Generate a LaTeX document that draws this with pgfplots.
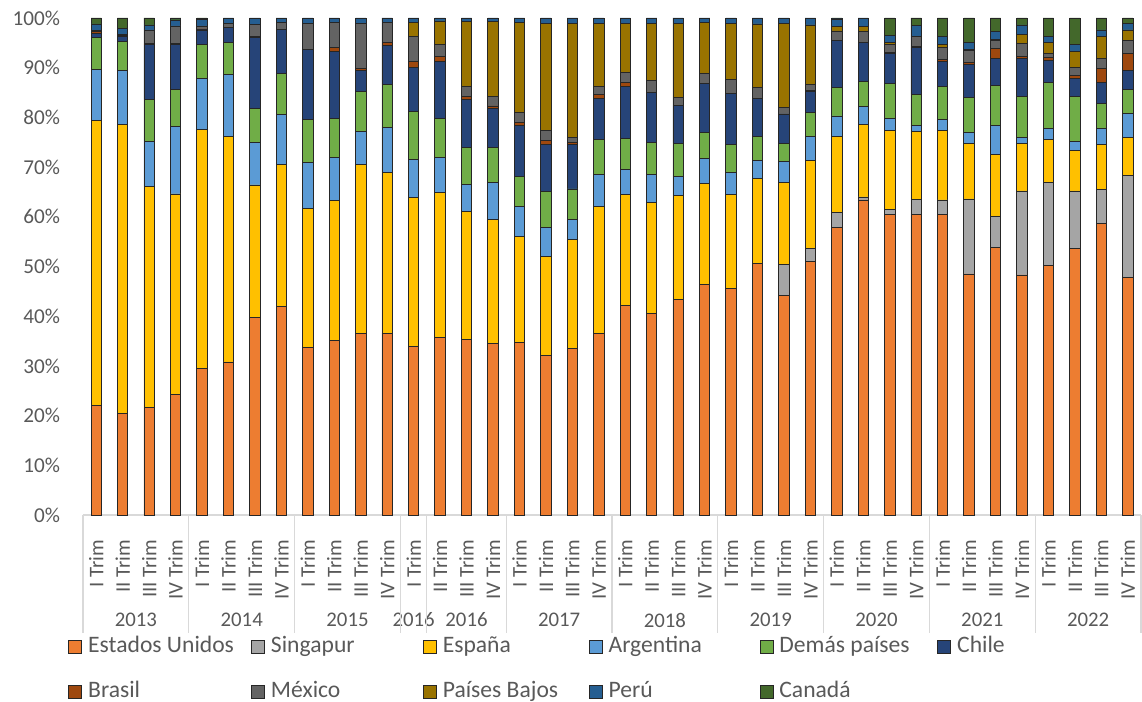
\documentclass[border=0pt]{standalone}
\usepackage{fontspec}
\setmainfont{Carlito}
\usepackage{pgfplots}
\pgfplotsset{compat=1.18}
\usepackage{pgfplotstable}

\definecolor{cEU}{HTML}{ED7D31}
\definecolor{cSG}{HTML}{A5A5A5}
\definecolor{cES}{HTML}{FFC000}
\definecolor{cAR}{HTML}{5B9BD5}
\definecolor{cDP}{HTML}{70AD47}
\definecolor{cCL}{HTML}{264478}
\definecolor{cBR}{HTML}{9E480E}
\definecolor{cMX}{HTML}{636363}
\definecolor{cPB}{HTML}{997300}
\definecolor{cPE}{HTML}{255E91}
\definecolor{cCA}{HTML}{43682B}
\definecolor{tickgray}{HTML}{595959}
\definecolor{sepgray}{HTML}{D9D9D9}

\newcommand\lbl{\fontsize{10.4pt}{12pt}\selectfont}
\newcommand\ylbl{\fontsize{10.6pt}{12pt}\selectfont}
\newcommand\leglbl{\fontsize{11.8pt}{14pt}\selectfont}

\pgfplotstableread{
x eu sg es ar dp cl br mx pb pe ca
0 22.0 0 57.3 10.4 6.3 0.9 0.4 0.2 0 1.3 1.2
1 20.5 0 58.1 10.9 5.7 1.0 0.3 0.2 0 1.2 2.1
2 21.6 0 44.5 9.1 8.4 11.0 0.2 2.8 0 1.0 1.4
3 24.3 0 40.3 13.6 7.4 9.0 0.2 3.6 0 1.2 0.4
4 29.5 0 48.1 10.2 6.8 3.0 0.2 0.6 0 1.3 0.3
5 30.8 0 45.3 12.6 6.4 3.0 0 0.8 0 1.1 0
6 39.8 0 26.6 8.6 6.8 14.2 0.2 2.5 0 1.3 0
7 41.9 0 28.7 10.0 8.3 8.8 0 1.4 0 0.9 0
8 33.7 0 28.0 9.3 8.6 14.1 0 5.2 0 1.1 0
9 35.2 0 28.0 8.8 7.8 13.4 0.9 5.0 0 0.9 0
10 36.6 0 34.0 6.6 8.1 4.2 0.3 9.1 0 1.1 0
11 36.6 0 32.4 8.9 8.8 7.7 0.6 4.1 0 0.9 0
12 33.9 0 30.0 7.7 9.6 8.9 1.2 5.0 2.8 0.9 0
13 35.7 0 29.2 7.0 7.9 11.5 0.9 2.4 4.8 0.6 0
14 35.3 0 25.8 5.4 7.5 9.7 0.5 2.1 13.0 0.7 0
15 34.5 0 24.9 7.5 7.1 7.8 0.5 1.9 15.1 0.7 0
16 34.7 0 21.4 6.0 6.0 10.2 0.7 2.0 18.1 0.9 0
17 32.1 0 19.9 5.9 7.2 9.5 0.7 2.1 21.5 1.1 0
18 33.5 0 22.0 4.0 6.1 9.0 0.3 1.1 22.9 1.1 0
19 36.5 0 25.6 6.4 7.1 8.3 0.7 1.7 12.6 1.1 0
20 42.2 0 22.3 5.1 6.2 10.5 0.8 2.0 9.8 1.1 0
21 40.6 0 22.3 5.6 6.5 10.1 0 2.4 11.4 1.1 0
22 43.3 0 21.0 3.9 6.6 7.6 0 1.6 14.9 1.1 0
23 46.4 0 20.4 5.0 5.2 9.9 0 2.0 10.2 0.9 0
24 45.5 0 19.0 4.5 5.5 10.4 0 2.8 11.2 1.1 0
25 50.7 0 17.0 3.6 4.8 7.7 0 2.2 12.8 1.2 0
26 44.1 6.4 16.4 4.2 3.7 5.9 0 1.3 16.9 1.1 0
27 51.1 2.6 17.6 4.8 4.9 4.2 0.3 1.2 11.9 1.4 0
28 57.9 3.0 15.2 4.2 5.7 9.4 0 2.0 0.9 1.5 0.2
29 63.4 0.6 14.6 3.6 5.0 7.9 0 2.2 1.0 1.7 0
30 60.5 1.0 15.8 2.5 7.1 5.9 0.2 1.6 0.4 1.5 3.5
31 60.4 3.1 13.6 1.2 6.4 9.4 0.2 1.9 0 2.3 1.5
32 60.4 3.0 13.9 2.3 6.7 5.0 0.3 2.5 0.6 1.5 3.8
33 48.5 15.1 11.2 2.2 7.0 6.7 0.3 2.4 0.3 1.3 5.0
34 53.9 6.1 12.6 5.8 8.1 5.3 2.1 1.5 0.2 1.7 2.7
35 48.3 16.9 9.6 1.1 8.3 7.7 0.3 2.6 1.9 1.9 1.4
36 50.2 16.7 8.7 2.2 9.2 4.5 0.5 0.9 2.2 1.1 3.8
37 53.7 11.5 8.2 1.7 9.2 3.6 0.6 1.5 3.2 1.4 5.4
38 58.6 6.9 9.1 3.1 5.1 4.3 2.8 2.0 4.3 1.4 2.4
39 47.8 20.6 7.6 4.8 4.9 3.7 3.5 2.5 2.2 1.3 1.1
}\datatable

\begin{document}
\begin{tikzpicture}
\useasboundingbox (-41.5pt,-93.5pt) rectangle (529.5pt,257.5pt);
\begin{axis}[
  at={(0,0)}, anchor=south west,
  scale only axis, width=529pt, height=248.5pt,
  ybar stacked, bar width=5.2pt,
  xmin=-0.5, xmax=39.5, ymin=0, ymax=100,
  enlargelimits=false, clip=false,
  axis line style={draw=none},
  tick style={draw=none},
  xtick={0,...,39},
  xticklabels={I Trim,II Trim,III Trim,IV Trim,I Trim,II Trim,III Trim,IV Trim,I Trim,II Trim,III Trim,IV Trim,I Trim,II Trim,III Trim,IV Trim,I Trim,II Trim,III Trim,IV Trim,I Trim,II Trim,III Trim,IV Trim,I Trim,II Trim,III Trim,IV Trim,I Trim,II Trim,III Trim,IV Trim,I Trim,II Trim,III Trim,IV Trim,I Trim,II Trim,III Trim,IV Trim},
  xticklabel shift=9pt,
  xticklabel style={rotate=90, anchor=east, font=\lbl, text=tickgray},
  ytick={0,10,...,100},
  yticklabel={\pgfmathprintnumber{\tick}\%},
  yticklabel style={font=\ylbl, text=tickgray, xshift=-8pt},
  /pgf/number format/assume math mode=true,
  every axis plot/.append style={draw=black!85, line width=0.4pt},
  legend columns=6,
  legend image code/.code={\draw[#1] (0pt,-3.25pt) rectangle (6.5pt,3.25pt);},
  legend style={draw=none, fill=none, font=\leglbl, text=tickgray,
    at={([xshift=-7.5pt,yshift=-58.5pt]axis description cs:0,0)}, anchor=north west,
    inner xsep=0pt, inner ysep=0pt, row sep=8.5pt,
    nodes={inner sep=1.5pt, text height=8.5pt, text depth=2.5pt},
    /tikz/every odd column/.append style={column sep=1.5pt},
    /tikz/every even column/.append style={column sep=0pt}},
  legend cell align=left,
]
\addplot[fill=cEU] table[x=x,y=eu]{\datatable};
\addplot[fill=cSG] table[x=x,y=sg]{\datatable};
\addplot[fill=cES] table[x=x,y=es]{\datatable};
\addplot[fill=cAR] table[x=x,y=ar]{\datatable};
\addplot[fill=cDP] table[x=x,y=dp]{\datatable};
\addplot[fill=cCL] table[x=x,y=cl]{\datatable};
\addplot[fill=cBR] table[x=x,y=br]{\datatable};
\addplot[fill=cMX] table[x=x,y=mx]{\datatable};
\addplot[fill=cPB] table[x=x,y=pb]{\datatable};
\addplot[fill=cPE] table[x=x,y=pe]{\datatable};
\addplot[fill=cCA] table[x=x,y=ca]{\datatable};
\legend{\makebox[80pt][l]{Estados Unidos},\makebox[74.5pt][l]{Singapur},\makebox[71.5pt][l]{España},\makebox[74pt][l]{Argentina},\makebox[77.5pt][l]{Demás países},\makebox[40pt][l]{Chile},
\makebox[80pt][l]{Brasil},\makebox[74.5pt][l]{México},\makebox[71.5pt][l]{Países Bajos},\makebox[74pt][l]{Perú},\makebox[77.5pt][l]{Canadá}}
\draw[sepgray, line width=0.6pt] (axis cs:-0.5,0) -- (axis cs:39.5,0);
\pgfplotsinvokeforeach{-0.5,3.5,7.5,11.5,12.5,15.5,19.5,23.5,27.5,31.5,35.5,39.5}{
  \draw[sepgray, line width=0.6pt] (axis cs:#1,0) -- ++(0pt,-59pt);
}
\node[font=\lbl, text=tickgray, yshift=-52.5pt] at (axis cs:1.5,0) {2013};
\node[font=\lbl, text=tickgray, yshift=-52.5pt] at (axis cs:5.5,0) {2014};
\node[font=\lbl, text=tickgray, yshift=-52.5pt] at (axis cs:9.5,0) {2015};
\node[font=\lbl, text=tickgray, yshift=-52.5pt] at (axis cs:12,0) {2016};
\node[font=\lbl, text=tickgray, yshift=-52.5pt] at (axis cs:14,0) {2016};
\node[font=\lbl, text=tickgray, yshift=-52.5pt] at (axis cs:17.5,0) {2017};
\node[font=\lbl, text=tickgray, yshift=-52.5pt] at (axis cs:21.5,0) {2018};
\node[font=\lbl, text=tickgray, yshift=-52.5pt] at (axis cs:25.5,0) {2019};
\node[font=\lbl, text=tickgray, yshift=-52.5pt] at (axis cs:29.5,0) {2020};
\node[font=\lbl, text=tickgray, yshift=-52.5pt] at (axis cs:33.5,0) {2021};
\node[font=\lbl, text=tickgray, yshift=-52.5pt] at (axis cs:37.5,0) {2022};
\end{axis}
\end{tikzpicture}
\end{document}
